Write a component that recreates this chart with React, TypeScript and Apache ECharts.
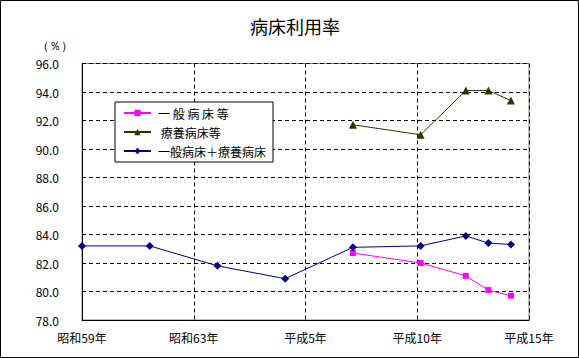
import React, { useEffect, useRef } from "react";
import * as echarts from "echarts";

const title = "病床利用率";
const unitLabel = "（％）";
const xTickLabels = ["昭和59年", "昭和63年", "平成5年", "平成10年", "平成15年"];
const baseYear = 1984;
const allYears = [1984, 1987, 1990, 1993, 1996, 1999, 2001, 2002, 2003];
const totalValues = [83.2, 83.2, 81.8, 80.9, 83.1, 83.2, 83.9, 83.4, 83.3];
const recentYears = [1996, 1999, 2001, 2002, 2003];
const generalValues = [82.7, 82.0, 81.1, 80.1, 79.7];
const longTermValues = [91.7, 91.0, 94.1, 94.1, 93.4];
const seriesNames = ["一 般 病 床 等", " 療養病床等", "一般病床＋療養病床"];

const FONT = "'Noto Sans CJK JP', 'Liberation Sans', sans-serif";

export default function App() {
  const ref = useRef<HTMLDivElement>(null);
  useEffect(() => {
    if (!ref.current) return;
    const chart = echarts.init(ref.current, undefined, { renderer: "svg" });
    const pair = (ys: number[], vs: number[]) => ys.map((y, i) => [y - baseYear, vs[i]]);
    const span = 19.8;
    const step = span / 4;
    chart.setOption({
      animation: false,
      backgroundColor: "#ffffff",
      textStyle: { fontFamily: FONT },
      title: {
        text: title,
        left: 290,
        textAlign: "center",
        top: 12,
        textStyle: { fontSize: 18, fontWeight: "normal", color: "#000", fontFamily: FONT },
      },
      graphic: [
        {
          type: "rect",
          shape: { x: 0.5, y: 0.5, width: 578, height: 357 },
          style: { fill: "none", stroke: "#000", lineWidth: 1 },
          silent: true,
        },
        {
          type: "text",
          x: 37,
          y: 46,
          style: { text: unitLabel, fontSize: 12, fill: "#000", font: "12px " + FONT, textVerticalAlign: "middle" },
        },
      ],
      legend: {
        orient: "vertical",
        left: 115,
        top: 102,
        padding: [5, 7, 5, 8],
        itemWidth: 27,
        itemHeight: 8,
        itemGap: 7,
        borderColor: "#000",
        borderWidth: 1,
        backgroundColor: "#fff",
        textStyle: { fontSize: 12, color: "#000", fontFamily: FONT, padding: [0, 0, 0, 2] },
        data: seriesNames,
      },
      grid: { left: 82, right: 50, top: 63.5, bottom: 38, show: true, borderColor: "#808080", borderWidth: 1 },
      xAxis: {
        type: "value",
        min: 0,
        max: span,
        interval: step,
        axisLine: { show: true, lineStyle: { color: "#000", width: 1 } },
        axisTick: { show: false },
        axisLabel: {
          margin: 11,
          fontSize: 12,
          color: "#000",
          fontFamily: FONT,
          formatter: (v: number) => xTickLabels[Math.round(v / step)] ?? "",
        },
        splitLine: { show: true, lineStyle: { color: "#000", type: [4, 3], width: 1 } },
      },
      yAxis: {
        type: "value",
        min: 78,
        max: 96,
        interval: 2,
        axisLine: { show: true, lineStyle: { color: "#000", width: 1 } },
        axisTick: { show: false },
        axisLabel: {
          margin: 23,
          fontSize: 12,
          color: "#000",
          fontFamily: FONT,
          formatter: (v: number) => v.toFixed(1),
        },
        splitLine: { show: true, lineStyle: { color: "#000", type: [4, 3], width: 1 } },
      },
      series: [
        {
          name: seriesNames[0],
          type: "line",
          data: pair(recentYears, generalValues),
          symbol: "rect",
          symbolSize: 6,
          lineStyle: { color: "#FF00FF", width: 1 },
          itemStyle: { color: "#FF00FF" },
        },
        {
          name: seriesNames[1],
          type: "line",
          data: pair(recentYears, longTermValues),
          symbol: "triangle",
          symbolSize: 8,
          lineStyle: { color: "#333300", width: 1 },
          itemStyle: { color: "#333300" },
        },
        {
          name: seriesNames[2],
          type: "line",
          data: pair(allYears, totalValues),
          symbol: "diamond",
          symbolSize: 8,
          lineStyle: { color: "#000080", width: 1 },
          itemStyle: { color: "#000080" },
        },
      ],
    });
    return () => chart.dispose();
  }, []);
  return (
    <div
      ref={ref}
      style={{ position: "absolute", left: 0, top: 0, width: 579, height: 358 }}
    />
  );
}
